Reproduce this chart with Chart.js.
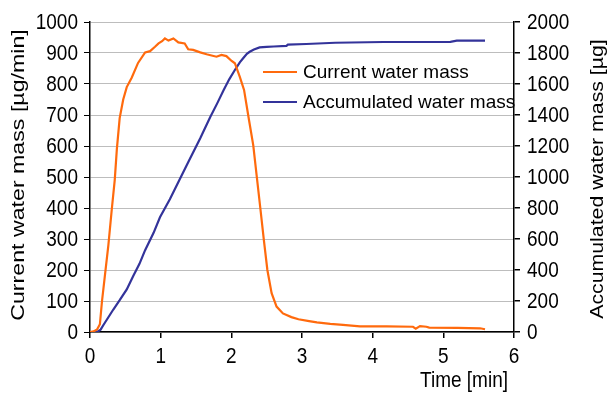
<!DOCTYPE html>
<html>
<head>
<meta charset="utf-8">
<script src="https://cdn.jsdelivr.net/npm/chart.js@4.4.1/dist/chart.umd.min.js"></script>
<style>
  html, body { margin: 0; padding: 0; background: #ffffff; }
  #wrap { position: relative; width: 610px; height: 394px; }
</style>
</head>
<body>
<div id="wrap"><canvas id="c" width="610" height="394"></canvas></div>
<script>
// ---- data ----
const currentTime = [0,0.05,0.1,0.14,0.17,0.21,0.26,0.31,0.35,0.38,0.42,0.47,0.52,0.59,0.68,0.78,0.85,0.92,0.97,1.02,1.06,1.11,1.18,1.25,1.34,1.39,1.46,1.56,1.65,1.72,1.79,1.86,1.93,2.0,2.05,2.12,2.18,2.25,2.31,2.36,2.41,2.46,2.51,2.57,2.64,2.73,2.85,2.95,3.1,3.21,3.4,3.58,3.82,4.2,4.57,4.61,4.67,4.76,4.8,5.2,5.52,5.59];
const currentMass = [0,2,8,25,100,180,280,400,490,590,690,750,790,820,868,902,906,920,931,938,947,940,947,934,931,912,910,902,896,892,888,894,890,875,867,823,781,684,603,501,400,297,200,125,82,60,48,41,35,31,26,23,18,18,17,11,19,17,14,13,12,9];
const accTime = [0,0.1,0.15,0.19,0.26,0.33,0.42,0.52,0.61,0.7,0.78,0.9,0.99,1.13,1.27,1.4,1.56,1.7,1.8,1.89,1.97,2.05,2.12,2.17,2.22,2.26,2.32,2.4,2.5,2.6,2.78,2.8,3.06,3.47,4.15,5.1,5.19,5.59];
const accMass = [0,0,15,45,95,145,205,275,360,440,528,640,740,856,985,1105,1250,1385,1475,1560,1630,1690,1740,1768,1795,1808,1822,1836,1840,1842,1846,1854,1858,1866,1871,1872,1880,1880];
const seriesLabels = ["Current water mass", "Accumulated water mass"];
const axisTitles = { x: "Time [min]", yLeft: "Current water mass [µg/min]", yRight: "Accumulated water mass [µg]" };
const xTicks = [0,1,2,3,4,5,6];

const FONT = "'Liberation Sans', Arial, sans-serif";
const FS = 19;
const VSTRETCH = 1.2;

const pts = (xs, ys) => xs.map((x, i) => ({ x: x, y: ys[i] }));

const overlay = {
  id: 'overlay',
  afterDraw(chart) {
    const ctx = chart.ctx;
    const ca = chart.chartArea;
    ctx.save();
    ctx.font = FS + "px " + FONT;
    ctx.fillStyle = "#000";
    ctx.textBaseline = "middle";
    // tick labels (stretched vertically like the reference)
    const drawLabel = (txt, x, y, align) => {
      ctx.save(); ctx.translate(x, y); ctx.scale(1, VSTRETCH);
      ctx.textAlign = align; ctx.fillText(txt, 0, 0); ctx.restore();
    };
    const sy = chart.scales.y, sy2 = chart.scales.y2, sx = chart.scales.x;
    sy.ticks.forEach((t, i) => drawLabel(String(t.value), 78, sy.getPixelForTick(i) + 1, 'right'));
    sy2.ticks.forEach((t, i) => drawLabel(String(t.value), 527, sy2.getPixelForTick(i) + 1, 'left'));
    sx.ticks.forEach((t, i) => drawLabel(String(t.value), sx.getPixelForTick(i), 357, 'center'));
    // legend (inside plot)
    chart.data.datasets.forEach((ds, i) => {
      const y = 72 + i * 30;
      ctx.strokeStyle = ds.borderColor;
      ctx.lineWidth = 2;
      ctx.beginPath(); ctx.moveTo(263, y); ctx.lineTo(297, y); ctx.stroke();
      ctx.textAlign = "left";
      ctx.fillText(ds.label, 303, y + 1);
    });
    // axis titles
    const cy = (ca.top + ca.bottom) / 2;
    ctx.textAlign = "center";
    ctx.save(); ctx.translate(19, cy - 2); ctx.rotate(-Math.PI / 2); ctx.scale(1.22, 1); ctx.fillText(axisTitles.yLeft, 0, 0); ctx.restore();
    ctx.save(); ctx.translate(598, cy + 2); ctx.rotate(-Math.PI / 2); ctx.scale(1.12, 1); ctx.fillText(axisTitles.yRight, 0, 0); ctx.restore();
    ctx.save(); ctx.translate(508, 381); ctx.scale(1, VSTRETCH); ctx.textAlign = "right"; ctx.fillText(axisTitles.x, 0, 0); ctx.restore();
    ctx.restore();
  }
};

new Chart(document.getElementById('c'), {
  type: 'line',
  data: {
    datasets: [
      { label: seriesLabels[0], data: pts(currentTime, currentMass), borderColor: '#FF6A0D', borderWidth: 2.2, pointRadius: 0, tension: 0, yAxisID: 'y' },
      { label: seriesLabels[1], data: pts(accTime, accMass), borderColor: '#33339A', borderWidth: 2.2, pointRadius: 0, tension: 0, yAxisID: 'y2' }
    ]
  },
  options: {
    responsive: false,
    animation: false,
    devicePixelRatio: 1,
    layout: { padding: { top: 22, left: 0, right: 0, bottom: 0 } },
    plugins: { legend: { display: false }, tooltip: { enabled: false }, title: { display: false } },
    scales: {
      x: {
        type: 'linear', min: 0, max: 6,
        afterBuildTicks: s => { s.ticks = xTicks.map(v => ({ value: v })); },
        afterFit: s => { s.height = 62; },
        grid: { drawOnChartArea: false, tickLength: 6, tickColor: '#000', lineWidth: 1.5 },
        border: { color: '#000', width: 1.5 },
        ticks: { display: false, autoSkip: false }
      },
      y: {
        position: 'left', min: 0, max: 1000,
        ticks: { stepSize: 100, display: false, autoSkip: false },
        afterFit: s => { s.width = 90; },
        grid: { color: '#bdbdbd', lineWidth: 1, tickLength: 6, tickColor: '#000' },
        border: { color: '#000', width: 1.5 }
      },
      y2: {
        position: 'right', min: 0, max: 2000,
        ticks: { stepSize: 200, display: false, autoSkip: false },
        afterFit: s => { s.width = 96; },
        grid: { drawOnChartArea: false, tickLength: 6, tickColor: '#000', lineWidth: 1.5 },
        border: { color: '#000', width: 1.5 }
      }
    }
  },
  plugins: [overlay]
});
</script>
</body>
</html>
